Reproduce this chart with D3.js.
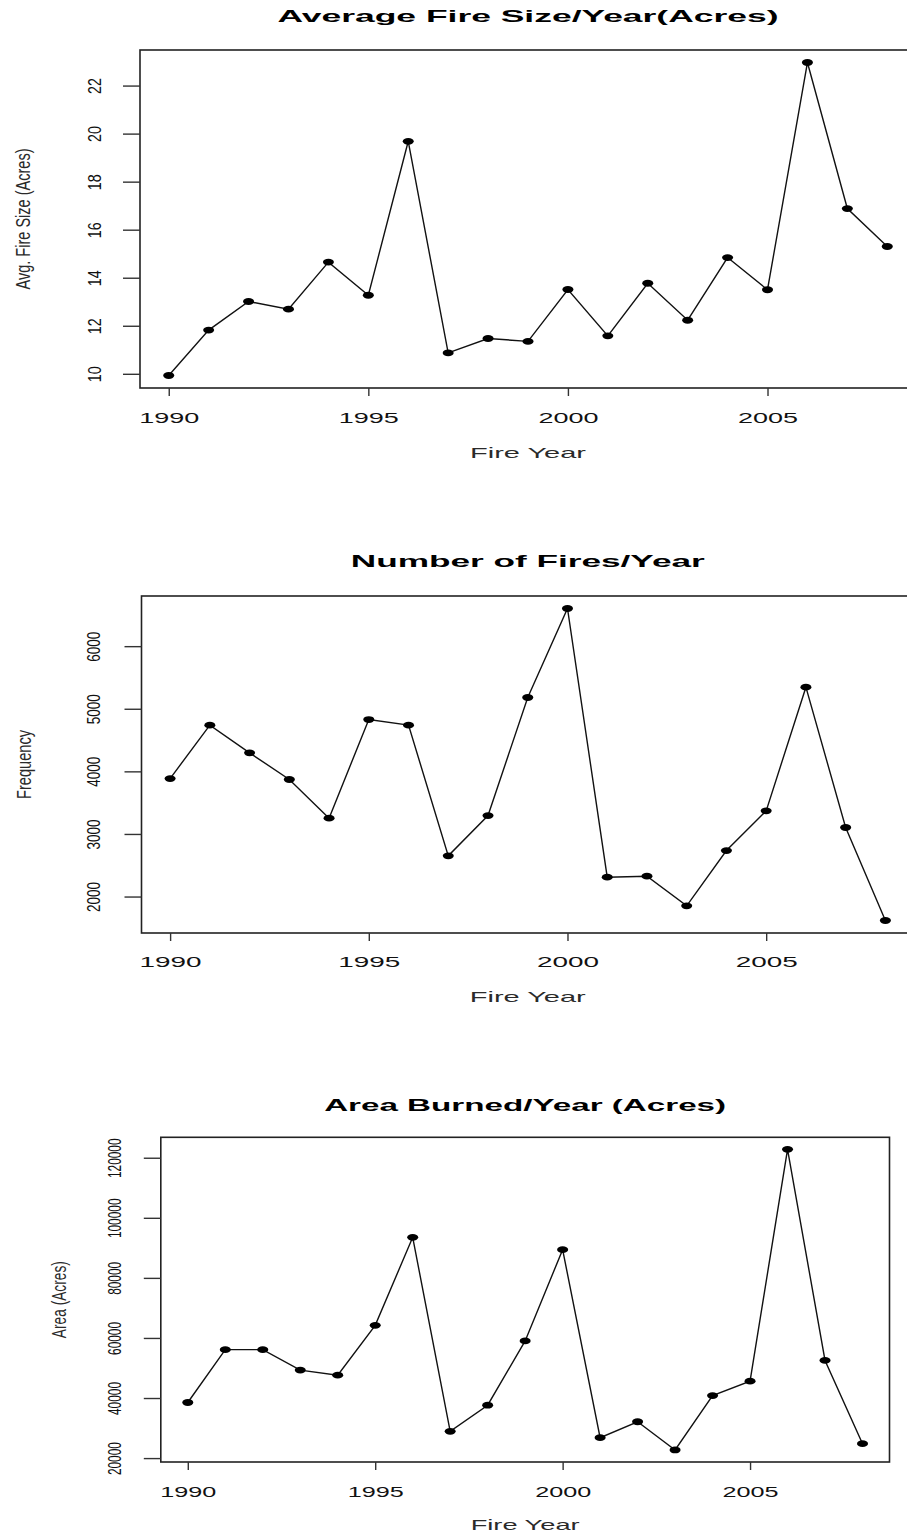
<!DOCTYPE html>
<html>
<head>
<meta charset="utf-8">
<script src="https://cdn.jsdelivr.net/npm/d3@7"></script>
<style>
  html, body { margin: 0; padding: 0; background: #fff; }
  svg { display: block; }
  text { font-family: "Liberation Sans", Arial, Helvetica, sans-serif; fill: #111; }
</style>
</head>
<body>
<svg id="chart" width="907" height="1533"></svg>
<script>
// ---- data ----
const years = [1990, 1991, 1992, 1993, 1994, 1995, 1996, 1997, 1998, 1999,
               2000, 2001, 2002, 2003, 2004, 2005, 2006, 2007, 2008];

const avgFireSize = [9.93, 11.82, 13.01, 12.69, 14.65, 13.27, 19.68, 10.87, 11.47, 11.35,
                     13.51, 11.58, 13.77, 12.23, 14.84, 13.50, 22.96, 16.88, 15.30];

const firesPerYear = [3885, 4738, 4296, 3870, 3252, 4828, 4738, 2650, 3294, 5180,
                      6602, 2309, 2325, 1851, 2735, 3369, 5345, 3103, 1617];

const areaBurned = [38500, 56100, 56100, 49300, 47600, 64200, 93500, 28900, 37600, 59000,
                    89400, 26800, 32100, 22700, 40800, 45600, 122800, 52500, 24800];

const yearTicks = [1990, 1995, 2000, 2005];
const avgTicks = [10, 12, 14, 16, 18, 20, 22];
const freqTicks = [2000, 3000, 4000, 5000, 6000];
const areaTicks = [20000, 40000, 60000, 80000, 100000, 120000];

const titles = ["Average Fire Size/Year(Acres)", "Number of Fires/Year", "Area Burned/Year (Acres)"];
const yLabels = ["Avg. Fire Size (Acres)", "Frequency", "Area (Acres)"];
const xLabel = "Fire Year";

// ---- layout of the three stacked panels ----
const panels = [
  { title: titles[0], values: avgFireSize, ticks: avgTicks, ylab: yLabels[0],
    box: { l: 140, r: 916, t: 50, b: 388 },
    titleY: 21.5, titleLen: 501, xTickY: 423, xTickLen: 60, xLabY: 458, xLabLen: 116,
    yTickOff: 39, yDigit: 8, yLabOff: 110, yLabLen: 141 },
  { title: titles[1], values: firesPerYear, ticks: freqTicks, ylab: yLabels[1],
    box: { l: 141.5, r: 914, t: 596, b: 933 },
    titleY: 567, titleLen: 354, xTickY: 967, xTickLen: 62, xLabY: 1001.5, xLabLen: 116,
    yTickOff: 42, yDigit: 7.5, yLabOff: 111, yLabLen: 69 },
  { title: titles[2], values: areaBurned, ticks: areaTicks, ylab: yLabels[2],
    box: { l: 160.8, r: 889.5, t: 1137.3, b: 1462 },
    titleY: 1111, titleLen: 402, xTickY: 1497, xTickLen: 56, xLabY: 1530, xLabLen: 109,
    yTickOff: 40, yDigit: 6.6, yLabOff: 95, yLabLen: 77 }
];

const svg = d3.select("#chart");

// R-style axis limits: data range widened by 4% on each side
function padded(ext) {
  const p = (ext[1] - ext[0]) * 0.04;
  return [ext[0] - p, ext[1] + p];
}

panels.forEach(P => {
  const g = svg.append("g");
  const { l, r, t, b } = P.box;

  const x = d3.scaleLinear().domain(padded(d3.extent(years))).range([l, r]);
  const y = d3.scaleLinear().domain(padded(d3.extent(P.values))).range([b, t]);

  // plot frame
  g.append("rect")
    .attr("x", l).attr("y", t)
    .attr("width", r - l).attr("height", b - t)
    .attr("fill", "none").attr("stroke", "#222").attr("stroke-width", 1.6);

  // bottom axis
  const xa = g.append("g")
    .attr("transform", `translate(0,${b})`)
    .call(d3.axisBottom(x).tickValues(yearTicks).tickSize(8).tickSizeOuter(0).tickFormat(d3.format("d")));
  xa.select(".domain").remove();
  xa.selectAll(".tick line").attr("stroke", "#333").attr("stroke-width", 1.4);
  xa.selectAll(".tick text")
    .attr("y", P.xTickY - b).attr("dy", 0)
    .attr("font-size", 15.5).attr("fill", "#2a2a2a")
    .attr("textLength", P.xTickLen).attr("lengthAdjust", "spacingAndGlyphs");

  // left axis with rotated labels
  const ya = g.append("g")
    .attr("transform", `translate(${l},0)`)
    .call(d3.axisLeft(y).tickValues(P.ticks).tickSize(17).tickSizeOuter(0).tickFormat(d3.format("d")));
  ya.select(".domain").remove();
  ya.selectAll(".tick line").attr("stroke", "#333").attr("stroke-width", 1.4);
  ya.selectAll(".tick text")
    .attr("x", 0).attr("y", 0).attr("dy", 0)
    .attr("transform", `translate(${-P.yTickOff},0) rotate(-90)`)
    .attr("text-anchor", "middle")
    .attr("font-size", 18).attr("fill", "#2a2a2a")
    .attr("textLength", d => String(d).length * P.yDigit)
    .attr("lengthAdjust", "spacingAndGlyphs");

  // series line
  const line = d3.line().x((d, i) => x(years[i])).y(d => y(d));
  g.append("path")
    .datum(P.values)
    .attr("d", line)
    .attr("fill", "none").attr("stroke", "#111").attr("stroke-width", 1.4);

  // point markers
  g.selectAll("ellipse.pt")
    .data(P.values)
    .join("ellipse")
    .attr("class", "pt")
    .attr("cx", (d, i) => x(years[i]))
    .attr("cy", d => y(d))
    .attr("rx", 5.5).attr("ry", 3.4)
    .attr("fill", "#000");

  // title
  g.append("text")
    .attr("x", (l + r) / 2).attr("y", P.titleY)
    .attr("text-anchor", "middle")
    .attr("font-size", 17).attr("font-weight", "bold").style("fill", "#000")
    .attr("textLength", P.titleLen).attr("lengthAdjust", "spacingAndGlyphs")
    .text(P.title);

  // x axis label
  g.append("text")
    .attr("x", (l + r) / 2).attr("y", P.xLabY)
    .attr("text-anchor", "middle")
    .attr("font-size", 15).style("fill", "#2a2a2a")
    .attr("textLength", P.xLabLen).attr("lengthAdjust", "spacingAndGlyphs")
    .text(xLabel);

  // y axis label
  g.append("text")
    .attr("transform", `translate(${l - P.yLabOff},${(t + b) / 2}) rotate(-90)`)
    .attr("text-anchor", "middle")
    .attr("font-size", 20).style("fill", "#2a2a2a")
    .attr("textLength", P.yLabLen).attr("lengthAdjust", "spacingAndGlyphs")
    .text(P.ylab);
});
</script>
</body>
</html>
